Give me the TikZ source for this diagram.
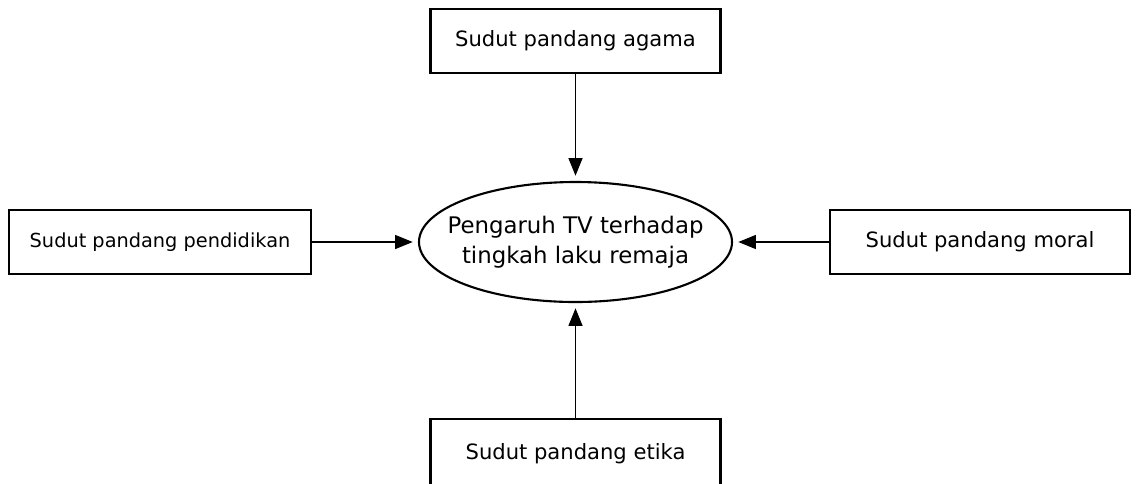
\documentclass[tikz,border=0pt]{standalone}
\usepackage{fontspec}
\setmainfont{DejaVu Sans}
\usepackage{tikz}
\usetikzlibrary{calc}
\usetikzlibrary{arrows.meta}
\usetikzlibrary{shapes.geometric}

\tikzset{
  sudut/.style={draw,line width=1.2pt,minimum width=5.8cm,minimum height=1.28cm,inner sep=0pt,font=\fontsize{12}{15}\selectfont},
  pusat/.style={draw,ellipse,line width=1.2pt,minimum width=6.26cm,minimum height=2.4cm,inner sep=0pt},
  panah/.style={line width=0.6pt,-{Triangle[length=10pt,width=8pt]},shorten >=3pt}
}

\begin{document}
\begin{tikzpicture}
            \useasboundingbox (0,0) rectangle (22.78,-9.66);

            \node[pusat] (pengaruh) at (11.51,-4.84) {};
            \node[align=center,font=\fontsize{13}{17}\selectfont] (teks) at (pengaruh) {Pengaruh TV terhadap\\tingkah laku remaja};

            \node[sudut] (agama) at (11.51,-0.82) {Sudut pandang agama};
            \node[sudut,minimum width=6.04cm,font=\fontsize{11}{13}\selectfont] (pendidikan) at (3.20,-4.84) {Sudut pandang pendidikan};
            \node[sudut,minimum width=6.0cm] (moral) at (19.60,-4.84) {Sudut pandang moral};
            \node[sudut,minimum height=1.40cm] (etika) at (11.51,-9.08) {Sudut pandang etika};

            \foreach \s in {agama,pendidikan,moral,etika}{
                \draw[panah](\s)--(pengaruh);
            }

        \end{tikzpicture}
\end{document}
